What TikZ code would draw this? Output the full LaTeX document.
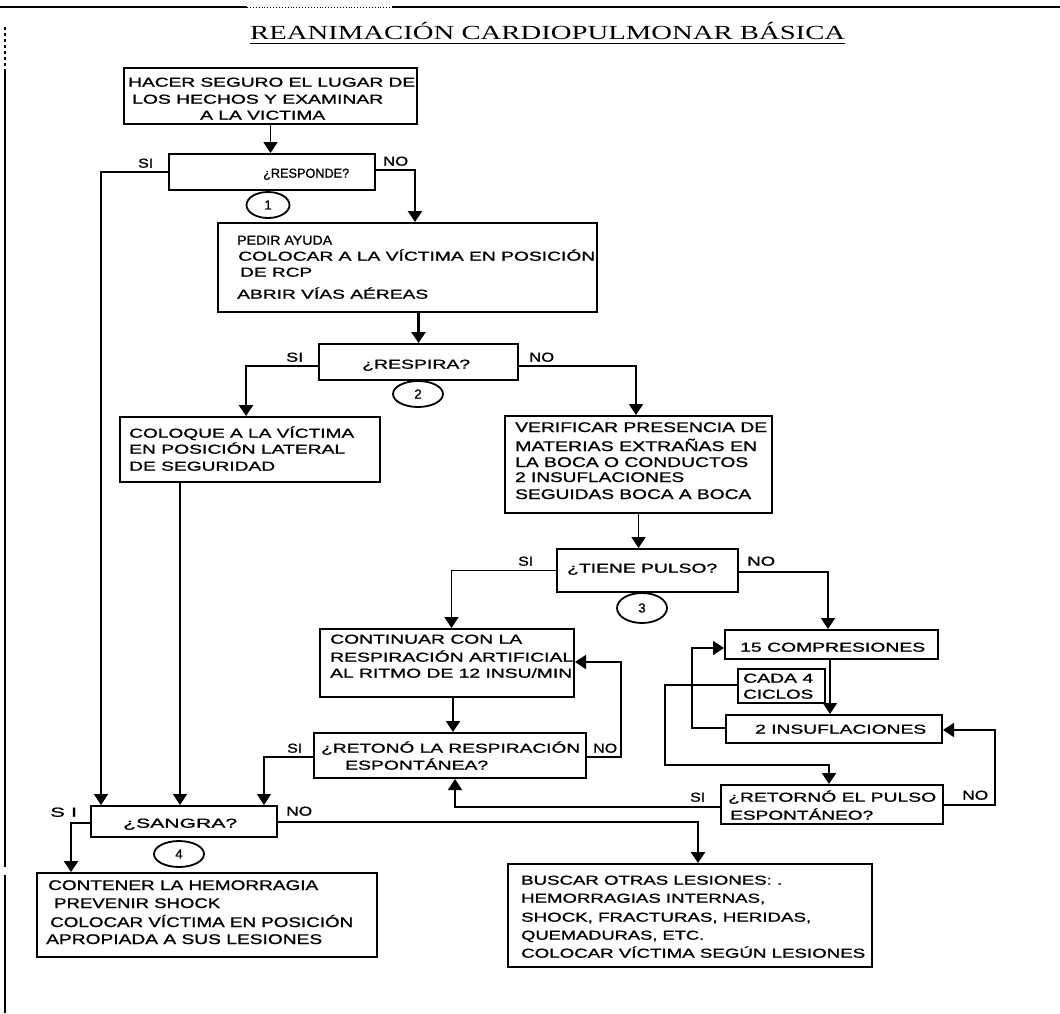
\documentclass[tikz,border=0pt]{standalone}
\usepackage{fontspec}
\usepackage{graphicx}
\usetikzlibrary{arrows.meta,shapes.geometric}
\newfontfamily\arfont[FakeBold=0.9]{Liberation Sans}
\newfontfamily\tmfont{Liberation Serif}
\newcommand\fw[2]{\resizebox{#1pt}{\height}{#2}}
\begin{document}
\begin{tikzpicture}[x=1pt,y=-1pt,
  box/.style={draw, line width=2pt, inner sep=0pt, rectangle},
  tl/.style={anchor=base west, inner sep=0pt, font=\arfont\fontsize{13}{15}\selectfont},
  tlb/.style={anchor=base west, inner sep=0pt, font=\arfont\fontsize{14}{16}\selectfont},
  conn/.style={line width=1.8pt, -{Triangle[width=14pt,length=11pt]}},
  thickconn/.style={conn, line width=2.6pt},
  numcirc/.style={draw, ellipse, line width=1.8pt, inner sep=0pt, font=\arfont\fontsize{13}{15}\selectfont},
  frameline/.style={line width=1.5pt}]
\useasboundingbox (0,0) rectangle (1060,1013);
\fill[white] (0,0) rectangle (1060,1013);

% frame lines
\coordinate (tl0) at (0,7);
\coordinate (tl1) at (247,7);
\coordinate (tl2) at (392,7);
\coordinate (tl3) at (1060,7);
\draw[frameline] (tl0) -- (tl1);
\draw[line width=0.9pt, dotted] (tl1) -- (tl2);
\draw[frameline] (tl2) -- (tl3);
\coordinate (lf0) at (5,27);
\coordinate (lf1) at (5,70);
\coordinate (lf2) at (5,867);
\coordinate (lf3) at (5,875);
\coordinate (lf4) at (5,1013);
\draw[frameline, dashed] (lf0) -- (lf1);
\draw[frameline] (lf1) -- (lf2);
\draw[frameline] (lf3) -- (lf4);

% title
\node[anchor=base west, inner sep=0pt, font=\tmfont\fontsize{20}{24}\selectfont] (title) at (250,39.6) {\fw{595}{REANIMACIÓN CARDIOPULMONAR BÁSICA}};
\draw[line width=1.2pt] ([yshift=-3.5pt]title.base west) -- ([yshift=-3.5pt]title.base east);

% boxes
\node[box, minimum width=293pt, minimum height=56pt] (b1) at (270.5,96) {};
\node[box, minimum width=206pt, minimum height=36pt] (q1) at (272,172) {};
\node[box, minimum width=379pt, minimum height=89pt] (b2) at (407.5,267.5) {};
\node[box, minimum width=199pt, minimum height=36pt] (q2) at (418.5,362) {};
\node[box, minimum width=260pt, minimum height=65pt] (b3) at (250,449.5) {};
\node[box, minimum width=267pt, minimum height=97pt] (b4) at (638.5,464.5) {};
\node[box, minimum width=181pt, minimum height=43pt] (q3) at (647.5,570.5) {};
\node[box, minimum width=254pt, minimum height=68pt] (b5) at (447,663) {};
\node[box, minimum width=272pt, minimum height=45pt] (q5) at (450,755.5) {};
\node[box, minimum width=213pt, minimum height=29pt] (b6) at (831.5,644.5) {};
\node[box, minimum width=87pt, minimum height=34pt] (b7) at (781.5,686) {};
\node[box, minimum width=216pt, minimum height=28pt] (b8) at (834,729) {};
\node[box, minimum width=222pt, minimum height=39pt] (q6) at (832,804.5) {};
\node[box, minimum width=186pt, minimum height=31pt] (q4) at (184,821.5) {};
\node[box, minimum width=340pt, minimum height=84pt] (b9) at (207,915) {};
\node[box, minimum width=364pt, minimum height=103pt] (b10) at (690,915.5) {};

% numbered circles
\node[numcirc, minimum width=43pt, minimum height=26pt] (c1) at (268,205) {1};
\node[numcirc, minimum width=50pt, minimum height=26pt] (c2) at (418,394) {2};
\node[numcirc, minimum width=50pt, minimum height=30pt] (c3) at (642,608) {3};
\node[numcirc, minimum width=50pt, minimum height=26pt] (c4) at (179,854) {4};

% texts
\node[tl] (b1a) at (128,86.7) {\fw{287}{HACER SEGURO EL LUGAR DE}};
\node[tl] (b1b) at (132,103.7) {\fw{251}{LOS HECHOS Y EXAMINAR}};
\node[tl] (b1c) at (200,119.7) {\fw{125}{A LA VICTIMA}};

\node[tl] (q1a) at (263,177.7) {\fw{86}{¿RESPONDE?}};
\node[tl] (si1) at (138,167.7) {\fw{15}{SI}};
\node[tl] (no1) at (383,165.7) {\fw{25}{NO}};

\node[tl] (b2a) at (237,244.7) {\fw{95}{PEDIR AYUDA}};
\node[tl] (b2b) at (238,260.7) {\fw{357}{COLOCAR A LA VÍCTIMA EN POSICIÓN}};
\node[tl] (b2c) at (240,276.7) {\fw{72}{DE RCP}};
\node[tl] (b2d) at (237,298.7) {\fw{191}{ABRIR VÍAS AÉREAS}};

\node[tl] (q2a) at (362,368.7) {\fw{108}{¿RESPIRA?}};
\node[tl] (si2) at (286,361.7) {\fw{17}{SI}};
\node[tl] (no2) at (529,361.7) {\fw{25}{NO}};

\node[tl] (b3a) at (129,437.7) {\fw{225}{COLOQUE A LA VÍCTIMA}};
\node[tl] (b3b) at (129,453.7) {\fw{216}{EN POSICIÓN LATERAL}};
\node[tl] (b3c) at (129,470.7) {\fw{146}{DE SEGURIDAD}};

\node[tlb] (b4a) at (515,432) {\fw{252}{VERIFICAR PRESENCIA DE}};
\node[tlb] (b4b) at (515,451) {\fw{242}{MATERIAS EXTRAÑAS EN}};
\node[tlb] (b4c) at (515,467) {\fw{233}{LA BOCA O CONDUCTOS}};
\node[tlb] (b4d) at (515,482) {\fw{169}{2 INSUFLACIONES}};
\node[tlb] (b4e) at (515,499) {\fw{236}{SEGUIDAS BOCA A BOCA}};

\node[tl] (q3a) at (567,572.7) {\fw{150}{¿TIENE PULSO?}};
\node[tl] (si3) at (518,565.7) {\fw{15}{SI}};
\node[tl] (no3) at (747,565.7) {\fw{28}{NO}};

\node[tl] (b5a) at (330,643.7) {\fw{192}{CONTINUAR CON LA}};
\node[tl] (b5b) at (330,661.7) {\fw{243}{RESPIRACIÓN ARTIFICIAL}};
\node[tl] (b5c) at (330,677.7) {\fw{242}{AL RITMO DE 12 INSU/MIN}};

\node[tl] (q5a) at (321,752.7) {\fw{259}{¿RETONÓ LA RESPIRACIÓN}};
\node[tl] (q5b) at (345,769.7) {\fw{143}{ESPONTÁNEA?}};
\node[tl] (si5) at (287,752.7) {\fw{15}{SI}};
\node[tl] (no5) at (593,752.7) {\fw{24}{NO}};

\node[tl] (b6a) at (740,651.7) {\fw{185}{15 COMPRESIONES}};
\node[tl] (b7a) at (743,682.7) {\fw{70}{CADA 4}};
\node[tl] (b7b) at (743,698.7) {\fw{70}{CICLOS}};
\node[tl] (b8a) at (755,733.7) {\fw{171}{2 INSUFLACIONES}};

\node[tl] (q6a) at (728,801.7) {\fw{208}{¿RETORNÓ EL PULSO}};
\node[tl] (q6b) at (730,819.7) {\fw{143}{ESPONTÁNEO?}};
\node[tl] (si6) at (690,801.7) {\fw{15}{SI}};
\node[tl] (no6) at (962,799.7) {\fw{26}{NO}};

\node[tl] (q4a) at (123,827.7) {\fw{114}{¿SANGRA?}};
\node[tl] (si4) at (50,816.7) {\fw{27}{S I}};
\node[tl] (no4) at (286,815.7) {\fw{26}{NO}};

\node[tlb] (b9a) at (48,890) {\fw{270}{CONTENER LA HEMORRAGIA}};
\node[tlb] (b9b) at (54,908) {\fw{166}{PREVENIR SHOCK}};
\node[tlb] (b9c) at (50,927) {\fw{303}{COLOCAR VÍCTIMA EN POSICIÓN}};
\node[tlb] (b9d) at (46,944) {\fw{276}{APROPIADA A SUS LESIONES}};

\node[tl] (b10a) at (521,884.7) {\fw{261}{BUSCAR OTRAS LESIONES: .}};
\node[tl] (b10b) at (521,902.7) {\fw{244}{HEMORRAGIAS INTERNAS,}};
\node[tl] (b10c) at (521,921.7) {\fw{290}{SHOCK, FRACTURAS, HERIDAS,}};
\node[tl] (b10d) at (521,939.7) {\fw{183}{QUEMADURAS, ETC.}};
\node[tl] (b10e) at (521,957.7) {\fw{344}{COLOCAR VÍCTIMA SEGÚN LESIONES}};

% connectors
\draw[conn] (b1.south) -- (b1.south |- q1.north);
\draw[conn, line width=1.4pt] (q1.west) -| ([xshift=-83pt]q4.north);
\draw[thickconn] ([yshift=2pt]q1.east) -| ([xshift=7.5pt]b2.north);
\draw[thickconn] (q2.north |- b2.south) -- (q2.north);
\draw[thickconn] ([yshift=-4pt]q2.west) -| ([xshift=-4pt]b3.north);
\draw[conn] ([yshift=-4pt]q2.east) -| ([xshift=-2.5pt]b4.north);
\draw[conn, line width=1.4pt] ([xshift=-70pt]b3.south) -- ([xshift=-4pt]q4.north);
\draw[conn] (b4.south) -- (b4.south |- q3.north);
\draw[conn] (q3.west) -| ([xshift=4.5pt]b5.north);
\draw[conn] ([yshift=-1.5pt]q3.east) -| ([xshift=-3.5pt]b6.north);
\draw[conn] ([xshift=6pt]b5.south) -- ([xshift=3pt]q5.north);
\draw[conn] ([yshift=-1.5pt]q5.east) -- ++(34,0) |- ([yshift=1pt]b5.east);
\draw[conn, line width=1.4pt] ([yshift=-1.5pt]q5.west) -| ([xshift=80pt]q4.north);
\draw[conn] ([yshift=-2.5pt]q6.west) -| ([xshift=5pt]q5.south);
\draw[thickconn] ([yshift=-0.5pt]q4.east) -| ([xshift=8pt]b10.north);
\draw[thickconn] ([yshift=-1.5pt]q4.west) -| ([xshift=-136pt]b9.north);
\draw[conn] ([xshift=-1.5pt]b6.south) -- ([xshift=-4pt]b8.north);
\draw[conn] ([yshift=1pt]b8.west) -- ++(-33,0) |- ([yshift=-3.5pt]b6.west);
\draw[conn] ([yshift=1pt]b7.west) -- ++(-72,0) -- ++(0,80) -| ([xshift=-3pt]q6.north);
\draw[conn] ([yshift=-0.5pt]q6.east) -- ++(51,0) |- ([yshift=-1pt]b8.east);
\end{tikzpicture}
\end{document}
